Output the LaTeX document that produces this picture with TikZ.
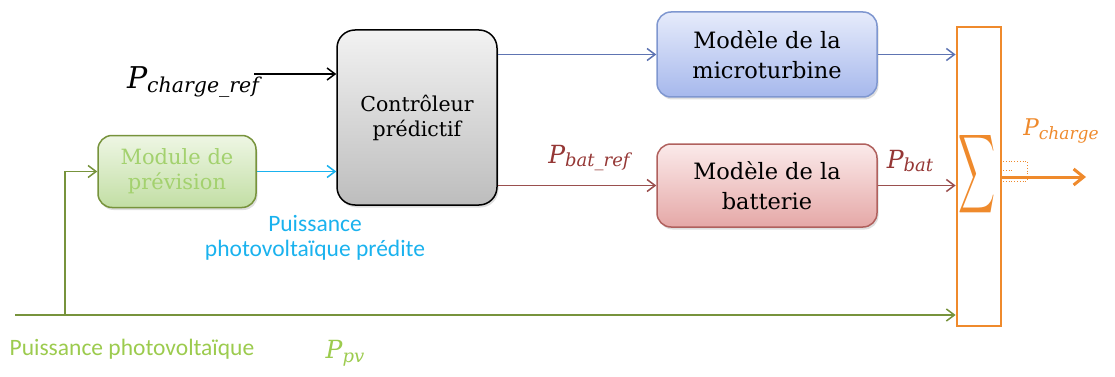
\documentclass[tikz,border=0pt]{standalone}
\usepackage{fontspec}
\usepackage{graphicx}
\setmainfont{DejaVu Serif}
\newfontfamily\boxfont{DejaVu Serif}
\newfontfamily\calib{Carlito}
\newfontfamily\varfont{DejaVu Serif}
\usetikzlibrary{arrows.meta,shadows}
\definecolor{modborder}{HTML}{77933C}
\definecolor{modtop}{HTML}{EEF6E4}
\definecolor{modbot}{HTML}{C2DEA4}
\definecolor{modtext}{HTML}{A3D16E}
\definecolor{grline}{HTML}{77933C}
\definecolor{grtext}{HTML}{9CCB4E}
\definecolor{ctrltop}{HTML}{F2F2F2}
\definecolor{ctrlbot}{HTML}{BDBDBD}
\definecolor{mtborder}{HTML}{7F97D0}
\definecolor{mttop}{HTML}{E6EBFB}
\definecolor{mtbot}{HTML}{A6B8EC}
\definecolor{blline}{HTML}{5E74B2}
\definecolor{batborder}{HTML}{B0615E}
\definecolor{battop}{HTML}{FBEAEA}
\definecolor{batbot}{HTML}{E5A8A7}
\definecolor{rdline}{HTML}{9A4F4E}
\definecolor{rdtext}{HTML}{953735}
\definecolor{orng}{HTML}{EF8A2C}
\definecolor{cyantext}{HTML}{1AB2EE}
\newcommand{\Pvar}[3]{{\varfont\fontsize{#1}{#1}\selectfont\itshape P\raisebox{-0.3ex}{\fontsize{#2}{#2}\selectfont #3}}}
\begin{document}
\begin{tikzpicture}[x=1pt,y=1pt,
  >={Straight Barb[length=8pt,width=12pt]},
  blockbase/.style={rounded corners=14pt, line width=1.5pt, align=center, inner sep=0pt,
    drop shadow={opacity=0.25,shadow xshift=1.5pt,shadow yshift=-2.5pt}},
  modbox/.style={blockbase, draw=modborder, top color=modtop, bottom color=modbot, text=modtext,
    minimum width=158pt, minimum height=72pt, font={\boxfont\fontsize{21}{25}\selectfont}},
  ctrlbox/.style={blockbase, rounded corners=18pt, draw=black, top color=ctrltop, bottom color=ctrlbot,
    minimum width=160pt, minimum height=175pt, font={\boxfont\fontsize{20.5}{25}\selectfont}},
  mtbox/.style={blockbase, draw=mtborder, top color=mttop, bottom color=mtbot,
    minimum width=220pt, minimum height=85pt, font={\boxfont\fontsize{22.5}{30}\selectfont}},
  batbox/.style={blockbase, draw=batborder, top color=battop, bottom color=batbot,
    minimum width=220pt, minimum height=83pt, font={\boxfont\fontsize{22.5}{30}\selectfont}},
  sumbox/.style={draw=orng, line width=2.8pt, minimum width=44pt, minimum height=299pt, inner sep=0pt},
  conn/.style={line width=1.5pt,->},
  lbl/.style={inner sep=0pt, align=center}
  ]
\useasboundingbox (0,0) rectangle (1115,-377);

\node[modbox] (mod) at (177,-171.5) {Module de\\prévision};
\node[ctrlbox] (ctrl) at (417,-117.5) {Contrôleur\\prédictif};
\node[mtbox] (mt) at (767,-54.5) {Modèle de la\\microturbine};
\node[batbox] (bat) at (767,-185.5) {Modèle de la\\batterie};
\node[sumbox] (sum) at (979,-176.5) {};
\node[lbl, text=orng] (sigma) at (976.5,-174) {\resizebox{37pt}{58pt}{$\displaystyle\sum$}};

% inputs
\coordinate (pcrstart) at (254,-74);
\draw[conn, black] (pcrstart) -- (ctrl.west |- pcrstart);
\draw[conn, cyantext] (mod.east) -- (ctrl.west |- mod.east);
\draw[conn, blline] (ctrl.east |- mt.west) -- (mt.west);
\draw[conn, rdline] (ctrl.east |- bat.west) -- (bat.west);
\draw[conn, blline] (mt.east) -- (sum.west |- mt.east);
\draw[conn, rdline] (bat.east) -- (sum.west |- bat.east);

% photovoltaic line
\coordinate (pvstart) at (15,-315);
\coordinate (pvbranch) at (65,-315);
\draw[conn, grline] (pvstart) -- (sum.west |- pvstart);
\draw[conn, grline] (pvbranch) -- (pvbranch |- mod.west) -- (mod.west);

% output
\coordinate (outstart) at (1002,-177);
\coordinate (outend) at (1086,-177);
\draw[orng, line width=3pt, -{Straight Barb[length=10pt,width=16pt,line width=3pt]}] (outstart) -- (outend);
\draw[orng, line width=0.8pt, dotted] (1003,-161) -- (1027,-161) -- (1027,-181);
\draw[orng, line width=0.8pt, dotted] (1003,-170) -- (1012,-170);
\draw[orng, line width=0.8pt, dotted] (1003,-181) -- (1027,-181);

% labels
\node[lbl] (pcr) at (193,-82) {\Pvar{30}{20.5}{charge\_ref}};
\node[lbl, text=rdtext] (pbr) at (589,-158) {\Pvar{25}{18}{bat\_ref}};
\node[lbl, text=rdtext] (pb) at (910,-161) {\Pvar{25}{18}{bat}};
\node[lbl, text=orng] (pc) at (1061,-131) {\Pvar{23}{17}{charge}};
\node[lbl, text=grtext] (ppv) at (345,-353) {\Pvar{25}{18}{pv}};
\node[lbl, text=cyantext, font={\calib\fontsize{23.5}{25}\selectfont}] (ppred) at (315,-238) {Puissance\\photovoltaïque prédite};
\node[lbl, text=grtext, font={\calib\fontsize{23.5}{25}\selectfont}] (ppvtxt) at (132,-349) {Puissance photovoltaïque};
\end{tikzpicture}
\end{document}
